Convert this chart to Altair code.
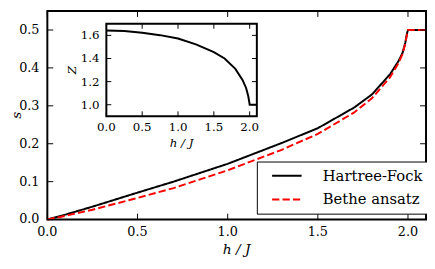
import altair as alt
import pandas as pd

# ---- data ----
methods = ["Hartree-Fock", "Bethe ansatz"]

h_hf = [0.0, 0.1, 0.25, 0.5, 0.7, 1.0, 1.3, 1.5, 1.7, 1.8, 1.9, 1.95, 1.97, 1.985, 1.995, 2.0, 2.1]
s_hf = [0.0, 0.013, 0.034, 0.071, 0.100, 0.147, 0.202, 0.241, 0.295, 0.330, 0.383, 0.420, 0.440, 0.466, 0.492, 0.5, 0.5]

h_ba = [0.0, 0.1, 0.25, 0.5, 0.7, 1.0, 1.3, 1.5, 1.7, 1.8, 1.9, 1.95, 1.97, 1.985, 1.995, 2.0, 2.1]
s_ba = [0.0, 0.010, 0.026, 0.057, 0.083, 0.130, 0.184, 0.226, 0.282, 0.320, 0.375, 0.415, 0.437, 0.465, 0.490, 0.5, 0.5]

h_z = [0.0, 0.25, 0.5, 0.75, 1.0, 1.25, 1.5, 1.65, 1.8, 1.9, 1.95, 1.98, 1.995, 2.0, 2.1]
z_vals = [1.643, 1.638, 1.622, 1.602, 1.573, 1.522, 1.455, 1.400, 1.310, 1.215, 1.145, 1.075, 1.020, 1.0, 1.0]

main_xticks = [0.0, 0.5, 1.0, 1.5, 2.0]
main_yticks = [0.0, 0.1, 0.2, 0.3, 0.4, 0.5]
inset_xticks = [0.0, 0.5, 1.0, 1.5, 2.0]
inset_yticks = [1.0, 1.2, 1.4, 1.6]

x_title = "h / J"
y_title = "s"
inset_y_title = "Z"

W, H = 385, 212
FONT = "DejaVu Serif"
TL = 6  # main tick length

main_df = pd.DataFrame({
    "h": h_hf + h_ba,
    "s": s_hf + s_ba,
    "method": [methods[0]] * len(h_hf) + [methods[1]] * len(h_ba),
})
inset_df = pd.DataFrame({"h": h_z, "Z": z_vals})
mxt = pd.DataFrame({"v": main_xticks})
myt = pd.DataFrame({"v": main_yticks})
ixt = pd.DataFrame({"v": inset_xticks})
iyt = pd.DataFrame({"v": inset_yticks})
one = pd.DataFrame({"k": [0]})

# ---- main panel ----
xs = alt.Scale(domain=[0, 2.1], nice=False, zero=False)
ys = alt.Scale(domain=[0, 0.55], nice=False, zero=False)

legend = alt.Legend(title=None, orient="none", legendX=213, legendY=153, padding=6, rowPadding=7,
                    symbolType="M-2,0H2", symbolSize=225, symbolStrokeWidth=2, symbolOffset=16,
                    labelFontSize=15, labelFont=FONT, labelOffset=28, labelColor="black",
                    strokeColor="black", fillColor="white", cornerRadius=0)

color = alt.Color("method:N", scale=alt.Scale(domain=methods, range=["black", "red"]), legend=legend)
dash = alt.StrokeDash("method:N", scale=alt.Scale(domain=methods, range=[[1, 0], [7.4, 3.2]]), legend=legend)

def line_layer(name):
    return alt.Chart(main_df).transform_filter(alt.datum.method == name).mark_line(strokeWidth=2).encode(
        x=alt.X("h:Q", scale=xs, axis=None),
        y=alt.Y("s:Q", scale=ys, axis=None),
        color=color,
        strokeDash=dash,
    )

hf_line = line_layer(methods[0])
ba_line = line_layer(methods[1])

tick_style = dict(color="black", strokeWidth=1)
bx = alt.Chart(mxt).mark_rule(**tick_style).encode(
    x=alt.X("v:Q", scale=xs, axis=None), y=alt.value(H), y2=alt.value(H - TL))
tx = alt.Chart(mxt).mark_rule(**tick_style).encode(
    x=alt.X("v:Q", scale=xs, axis=None), y=alt.value(0), y2=alt.value(TL))
ly = alt.Chart(myt).mark_rule(**tick_style).encode(
    y=alt.Y("v:Q", scale=ys, axis=None), x=alt.value(0), x2=alt.value(TL))
ry = alt.Chart(myt).mark_rule(**tick_style).encode(
    y=alt.Y("v:Q", scale=ys, axis=None), x=alt.value(W), x2=alt.value(W - TL))

xlab = alt.Chart(mxt).mark_text(font=FONT, fontSize=13, baseline="top", align="center", color="black").encode(
    x=alt.X("v:Q", scale=xs, axis=None), y=alt.value(H + 7), text=alt.Text("v:Q", format=".1f"))
ylab = alt.Chart(myt).mark_text(font=FONT, fontSize=13, baseline="middle", align="right", color="black").encode(
    y=alt.Y("v:Q", scale=ys, axis=None), x=alt.value(-8), text=alt.Text("v:Q", format=".1f"))
xtit = alt.Chart(one).mark_text(text=x_title, font=FONT, fontSize=14, fontStyle="italic",
                                baseline="alphabetic", align="center", color="black").encode(
    x=alt.value(W / 2), y=alt.value(H + 35))
ytit = alt.Chart(one).mark_text(text=y_title, font=FONT, fontSize=14, fontStyle="italic", angle=270,
                                baseline="middle", align="center", color="black").encode(
    x=alt.value(-31), y=alt.value(H / 2))

main = alt.layer(hf_line, ba_line, bx, tx, ly, ry, xlab, ylab, xtit, ytit)

# ---- inset panel ----
IL, IR, IT, IB = 60, 213, 13, 107
ITL = 5
xi = alt.Scale(domain=[0, 2.1], range=[IL, IR], nice=False, zero=False)
yi = alt.Scale(domain=[0.9, 1.7], range=[IB, IT], nice=False, zero=False)

frame = alt.Chart(one).mark_rect(fill="white", stroke="black", strokeWidth=2).encode(
    x=alt.value(IL), x2=alt.value(IR), y=alt.value(IT), y2=alt.value(IB))
z_line = alt.Chart(inset_df).mark_line(color="black", strokeWidth=2).encode(
    x=alt.X("h:Q", scale=xi, axis=None),
    y=alt.Y("Z:Q", scale=yi, axis=None),
)
ibx = alt.Chart(ixt).mark_rule(**tick_style).encode(
    x=alt.X("v:Q", scale=xi, axis=None), y=alt.value(IB), y2=alt.value(IB - ITL))
itx = alt.Chart(ixt).mark_rule(**tick_style).encode(
    x=alt.X("v:Q", scale=xi, axis=None), y=alt.value(IT), y2=alt.value(IT + ITL))
ily = alt.Chart(iyt).mark_rule(**tick_style).encode(
    y=alt.Y("v:Q", scale=yi, axis=None), x=alt.value(IL), x2=alt.value(IL + ITL))
iry = alt.Chart(iyt).mark_rule(**tick_style).encode(
    y=alt.Y("v:Q", scale=yi, axis=None), x=alt.value(IR), x2=alt.value(IR - ITL))

ixlab = alt.Chart(ixt).mark_text(font=FONT, fontSize=12, baseline="top", align="center", color="black").encode(
    x=alt.X("v:Q", scale=xi, axis=None), y=alt.value(IB + 6), text=alt.Text("v:Q", format=".1f"))
iylab = alt.Chart(iyt).mark_text(font=FONT, fontSize=12, baseline="middle", align="right", color="black").encode(
    y=alt.Y("v:Q", scale=yi, axis=None), x=alt.value(IL - 7), text=alt.Text("v:Q", format=".1f"))
ixtit = alt.Chart(one).mark_text(text=x_title, font=FONT, fontSize=12, fontStyle="italic",
                                 baseline="alphabetic", align="center", color="black").encode(
    x=alt.value((IL + IR) / 2), y=alt.value(IB + 31))
iytit = alt.Chart(one).mark_text(text=inset_y_title, font=FONT, fontSize=12, fontStyle="italic", angle=270,
                                 baseline="middle", align="center", color="black").encode(
    x=alt.value(IL - 35), y=alt.value((IT + IB) / 2))

inset = alt.layer(frame, z_line, ibx, itx, ily, iry, ixlab, iylab, ixtit, iytit)

chart = alt.layer(main, inset).resolve_scale(x="independent", y="independent").properties(
    width=W, height=H,
    padding={"left": 40, "top": 1, "right": 1, "bottom": 38},
    autosize=alt.AutoSizeParams(type="none"),
).configure_view(
    stroke="black", strokeWidth=2
)

chart.save("out.html", embed_options={"renderer": "svg", "actions": False})
